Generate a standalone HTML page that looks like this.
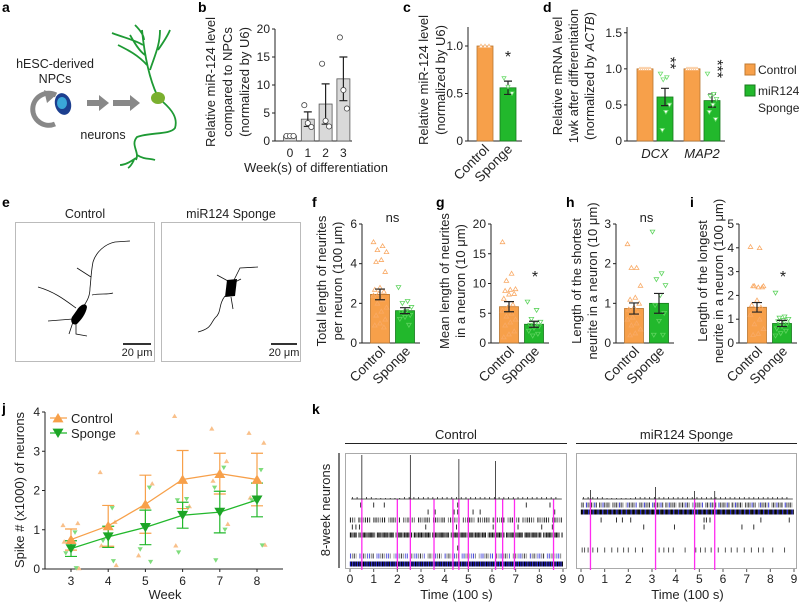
<!DOCTYPE html>
<html><head><meta charset="utf-8">
<style>
html,body{margin:0;padding:0;background:#fff;}
svg{display:block;font-family:"Liberation Sans",Arial,sans-serif;}
.lbl{font-weight:bold;font-size:14px;}
.tk{font-size:12px;fill:#222;}
.tt{font-size:13px;fill:#222;}
</style></head>
<body>
<svg id="fig" width="800" height="604" viewBox="0 0 800 604" xmlns="http://www.w3.org/2000/svg">
<text class="lbl" x="2" y="12">a</text>
<text class="lbl" x="198" y="12">b</text>
<text class="lbl" x="403" y="12">c</text>
<text class="lbl" x="543" y="12">d</text>
<text class="lbl" x="2" y="207">e</text>
<text class="lbl" x="312" y="207">f</text>
<text class="lbl" x="436" y="207">g</text>
<text class="lbl" x="566" y="207">h</text>
<text class="lbl" x="690" y="207">i</text>
<text class="lbl" x="2" y="413">j</text>
<text class="lbl" x="312" y="414">k</text>

<g>
  <text x="55" y="68" text-anchor="middle" font-size="12.5" fill="#222">hESC-derived</text>
  <text x="55" y="83" text-anchor="middle" font-size="12.5" fill="#222">NPCs</text>
  <path d="M56,95 A16,16 0 1 0 55,124" fill="none" stroke="#888" stroke-width="5"/>
  <path d="M44,90 L56,95 L47,103 Z" fill="#888"/>
  <ellipse cx="63" cy="104" rx="8" ry="11" fill="#1c3f8f" transform="rotate(-15 63 104)"/>
  <ellipse cx="62" cy="103" rx="5" ry="6" fill="#3aa7d8"/>
  <path d="M87,100 h12 v-5 l10,8 l-10,8 v-5 h-12 Z" fill="#888"/>
  <path d="M113,100 h17 v-5 l10,8 l-10,8 v-5 h-17 Z" fill="#888"/>
  <text x="103" y="139" text-anchor="middle" font-size="12.5" fill="#222">neurons</text>
  <g fill="none" stroke="#1e9a34" stroke-width="1.8">
    <path d="M157,95 C150,80 145,60 142,30 M147,65 C138,55 128,50 118,45 M143,45 C135,40 125,38 112,33 M144,40 C144,35 140,30 135,25 M150,70 C155,55 160,45 160,30 M158,50 C165,40 168,35 170,30 M145,55 C138,50 133,40 130,35"/>
    <path d="M163,102 C172,110 178,118 175,128 C170,135 150,132 137,137 C130,145 140,152 136,160 M136,158 C130,162 125,165 120,165 M137,155 C145,160 150,158 155,160 M134,160 C132,164 130,167 128,168"/>
  </g>
  <ellipse cx="158" cy="98" rx="7" ry="6" fill="#7ab02f"/>
</g>

<g>
  <text x="85" y="218" text-anchor="middle" font-size="12.5" fill="#222">Control</text>
  <text x="231" y="218" text-anchor="middle" font-size="12.5" fill="#222">miR124 Sponge</text>
  <rect x="15.5" y="222.5" width="139" height="139" fill="#fff" stroke="#bbb"/>
  <rect x="161.5" y="222.5" width="139" height="139" fill="#fff" stroke="#bbb"/>
  <g fill="none" stroke="#111" stroke-width="0.8">
    <path d="M83,307 C88,300 90,295 90,288 C91,280 91,272 93,262 C96,252 105,244 115,242 L130,241 M91,277 L77,268 M92,295 C100,293 107,295 113,293 M76,308 C65,300 55,292 38,287 M73,319 L48,321 M73,322 L69,334 M76,324 L76,334 L87,336"/>
    <path d="M234,280 L240,268 L258,267 M228,281 L217,275 M235,282 L241,279 M225,296 C218,305 222,312 215,318 C210,324 212,328 198,332 M231,297 L233,309"/>
  </g>
  <path d="M77,310 C80,305 86,302 87,307 C86,314 81,320 77,324 C72,326 70,321 72,317 Z" fill="#000"/>
  <path d="M227,280 L237,279 L235,296 L225,297 Z" fill="#000"/>
  <line x1="123" y1="344" x2="151" y2="344" stroke="#333" stroke-width="2"/>
  <text x="137" y="356" font-size="11" text-anchor="middle" fill="#222">20 μm</text>
  <line x1="271" y1="344" x2="297" y2="344" stroke="#333" stroke-width="2"/>
  <text x="284" y="356" font-size="11" text-anchor="middle" fill="#222">20 μm</text>
</g>

<rect x="745" y="64" width="10" height="11" fill="#f7a04a" stroke="#c07a30"/>
<text x="758" y="74" font-size="12" fill="#222">Control</text>
<rect x="745" y="85" width="10" height="11" fill="#22b82c" stroke="#177a1d"/>
<text x="758" y="95" font-size="12" fill="#222">miR124</text>
<text x="758" y="112" font-size="12" fill="#222">Sponge</text>
</svg>

<script>
const bWeeks=[0,1,2,3];
const bMeans=[0.9,3.9,6.6,11.1];
const bSems=[0.05,1.3,3.6,3.9];
const bPts=[[0.9,0.9,0.9],[6.4,3.2,2.5],[13.8,3.6,2.6],[18.5,9.1,5.8]];
const bTicks=[0,5,10,15,20];

const cCats=["Control","Sponge"];
const cMeans=[1.0,0.56];
const cSems=[0,0.07];
const cPts=[[1,1,1],[0.66,0.57,0.5]];
const cTicks=[0,0.5,1.0];

const dGenes=["DCX","MAP2"];
const dCtrlMeans=[1.0,1.0];
const dSpgMeans=[0.61,0.56];
const dSpgSems=[0.12,0.09];
const dCtrlPts=[[1,1,1,1,1,1],[1,1,1,1,1,1]];
const dSpgPts=[[0.93,0.88,0.85,0.5,0.4,0.15],[0.93,0.65,0.62,0.58,0.5,0.4,0.3]];
const dTicks=[0,0.5,1.0,1.5];

const fMeans=[2.45,1.63], fSems=[0.27,0.15];
const fPts=[[5.1,4.9,4.7,4.6,4.2,4.1,3.6,2.8,2.7,2.6,2.5,2.4,2.2,2.0,1.8,1.6,1.4,1.2,1.0,0.9,0.8],[2.8,2.1,2.0,1.8,1.6,1.55,1.4,1.3,1.2,0.9]];
const fTicks=[0,2,4,6];
const gMeans=[6.1,3.15], gSems=[0.85,0.5];
const gPts=[[17,11.7,10.5,9.1,9,8.8,8.3,8.2,7.5,6.5,6,5.5,5,4.5,4,3.5,3,2,1.5,1],[6.9,5.5,4,3.5,3.2,3,2.8,2.5,2,1.5,1.2]];
const gTicks=[0,5,10,15,20];
const hMeans=[0.87,1.0], hSems=[0.14,0.25];
const hPts=[[2.5,1.9,1.9,1.45,1.15,1.1,1.0,0.9,0.85,0.75,0.65,0.6,0.5,0.45,0.35,0.25,0.2],[2.8,1.75,1.6,1.45,1.2,0.95,0.75,0.55,0.2,0.2]];
const hTicks=[0,1,2,3];
const iMeans=[1.5,0.82], iSems=[0.2,0.13];
const iPts=[[4.05,4,2.4,2.4,2.35,2.4,2.35,1.8,1.6,1.5,1.4,1.2,1.0,0.8,0.6,0.4,0.35],[2.1,1.1,1.05,1.0,0.95,0.9,0.8,0.7,0.6,0.5,0.4,0.3]];
const iTicks=[0,1,2,3,4,5];

const jWeeks=[3,4,5,6,7,8];
const jCtrlMeans=[0.75,1.1,1.65,2.28,2.43,2.28];
const jCtrlSems=[0.27,0.52,0.74,0.74,0.52,0.67];
const jSpgMeans=[0.52,0.82,1.06,1.37,1.45,1.76];
const jSpgSems=[0.2,0.27,0.44,0.33,0.53,0.43];
const jCtrlPts=[[1.12,1.17,0.7,0.02],[2.47,1.2,0.6,0.1],[3.48,2.18,0.35],[3.9,1.6,0.6],[3.58,2.75,2.25,1.15],[3.47,3.22,1.82,0.62]];
const jSpgPts=[[0.93,0.4,0.02],[1.55,0.72,0.2],[2.07,0.5,0.18],[1.78,1.75,1.55,0.42],[2.58,2.07,1.0,0.22],[2.52,1.75,0.6]];
const jYTicks=[0,1,2,3,4];

const kTimeTicks=[0,1,2,3,4,5,6,7,8,9];
const kCtrlBursts=[0.5,2.55,4.6,6.15];
const kCtrlBurstH=[44,44,40,38];
const kCtrlSync=[0.5,2.0,2.55,3.55,4.35,4.6,5.0,6.15,6.45,6.95,8.6];
const kCtrlSparse1=[0.45,1.0,1.45,4.55,7.45,8.45];
const kCtrlSparse2=[3.3,3.6,4.4,4.55,5.2,5.5,8.65];
const kCtrlSparse3=[0.1,0.25,0.4,3.2,4.5,6.05,7.1,8.1,8.55];
const kSpgBursts=[0.4,3.15,4.8,5.65];
const kSpgBurstH=[9,12,8,8];
const kSpgSync=[0.4,3.15,4.8,5.65];
const kSpgSparse1=[0.85,1.5,1.75,2.1,5.2,5.3,5.45,7.6,8.8];
const kSpgSparse2=[2.65,3.95,5.2,6.8,7.3];
const kSpgSparse3=[0.05,0.15,0.3,0.5,0.7,1.0,1.3,1.55,1.8,2.0,2.3,2.6,3.3,3.5,3.7,3.9,4.4,4.85,5.05,5.25,5.5,5.8,6.1,6.35,6.6,6.9,7.2,7.5,7.7,8.1,8.6];

const NS='http://www.w3.org/2000/svg';
const svg=document.getElementById('fig');
function mk(tag,attrs,parent){const e=document.createElementNS(NS,tag);for(const k in attrs)e.setAttribute(k,attrs[k]);(parent||svg).appendChild(e);return e;}
function triPath(cx,cy,s,down){return down?`M${cx-s},${cy-s*0.8}L${cx+s},${cy-s*0.8}L${cx},${cy+s*0.9}Z`:`M${cx-s},${cy+s*0.8}L${cx+s},${cy+s*0.8}L${cx},${cy-s*0.9}Z`;}
function jit(i){return ((i*7)%11)-5;}
const ORANGE='#f7a04a',ORSTK='#b87630',GREEN='#22b82c',GRSTK='#177a1d';

function yAxis(x,y0,y1,ymax,ticks,fmt,name){
  const sy=v=>y0-(v/ymax)*(y0-y1);
  const ax=mk('line',{x1:x,y1:y1,x2:x,y2:y0,stroke:'#222','stroke-width':1});
  
  
  ticks.forEach(t=>{
    const tl=mk('line',{x1:x-3,y1:sy(t),x2:x,y2:sy(t),stroke:'#222'});
    
    
    const tx=mk('text',{x:x-5,y:sy(t)+4,'text-anchor':'end','class':'tk'});
    tx.textContent=fmt(t);
    
    
  });
  return sy;
}
function yTitle(lines,xs,cy,name,fs){
  lines.forEach((l,i)=>{
    const t=mk('text',{x:xs[i],y:cy,'text-anchor':'middle','class':'tt',transform:`rotate(-90 ${xs[i]} ${cy})`});
    if(fs) t.setAttribute('font-size',fs);
    t.innerHTML=l;
    
    
  });
}
function errBar(cx,sy,m,s,color,cap){
  const g=mk('path',{d:`M${cx},${sy(m-s)}V${sy(m+s)}M${cx-cap},${sy(m+s)}H${cx+cap}M${cx-cap},${sy(m-s)}H${cx+cap}`,stroke:color,'stroke-width':1.2,fill:'none'});
  
  
}
function rotLabel(x,y,txt,name){
  const t=mk('text',{x:x,y:y,'text-anchor':'end',transform:`rotate(-45 ${x} ${y})`,'font-size':'13.5',fill:'#222'});
  t.textContent=txt;
  
  
}

(function(){
  const x0=275,y0=141,y1=29;
  const sy=yAxis(x0,y0,y1,20,bTicks,v=>v,'b');
  const sx=w=>290+w*17.8;
  const xa=mk('line',{x1:x0,y1:y0,x2:352,y2:y0,stroke:'#222'});
  
  
  bWeeks.forEach((w,i)=>{
    const r=mk('rect',{x:sx(w)-6.5,y:sy(bMeans[i]),width:13,height:y0-sy(bMeans[i]),fill:'#d9d9d9',stroke:'#555','stroke-width':0.8});
    
    
    errBar(sx(w),sy,bMeans[i],bSems[i],'#222',4);
    bPts[i].forEach((p,j)=>{
      const c=mk('circle',{cx:sx(w)+(j-1)*3.5,cy:sy(p),r:2.6,fill:'#fff',stroke:'#444','stroke-width':0.8});
      
      
    });
    const tl=mk('text',{x:sx(w),y:157,'text-anchor':'middle','class':'tk','font-size':'12.5'});
    tl.textContent=w;
    
    
  });
  const xt=mk('text',{x:316,y:172,'text-anchor':'middle','font-size':'13',fill:'#222'});
  xt.textContent='Week(s) of differentiation';
  
  
  yTitle(['Relative miR-124 level','compared to NPCs','(normalized by U6)'],[215,232,249],82,'b');
})();

(function(){
  const x0=468,y0=141,y1=27;
  const sy=yAxis(x0,y0,y1,1.2,cTicks,v=>v===0?'0':v.toFixed(1),'c');
  const xa=mk('line',{x1:x0,y1:y0,x2:522,y2:y0,stroke:'#222'});
  
  
  const cx=[485,508];
  cCats.forEach((c,i)=>{
    const r=mk('rect',{x:cx[i]-8,y:sy(cMeans[i]),width:16,height:y0-sy(cMeans[i]),fill:i?GREEN:ORANGE,stroke:i?GRSTK:ORSTK,'stroke-width':0.8});
    
    
    if(cSems[i]>0) errBar(cx[i],sy,cMeans[i],cSems[i],'#222',4);
    cPts[i].forEach((p,j)=>{
      const t=mk('path',{d:triPath(cx[i]+(j-1)*4,sy(p),2,i===1),fill:'#fff',stroke:i?'#6fdc6f':'#f9b77a','stroke-width':0.8});
      
      
    });
    rotLabel(cx[i]+5,150,c,'c-x-tick-label');
  });
  const st=mk('text',{x:508,y:62,'text-anchor':'middle','font-size':'16',fill:'#222'});
  st.textContent='*';
  
  
  yTitle(['Relative miR-124 level','(normalized by U6)'],[428,445],80,'c');
})();

(function(){
  const x0=627,y0=141,y1=27;
  const sy=yAxis(x0,y0,y1,1.58,dTicks,v=>v===0?'0':v.toFixed(1),'d');
  const xa=mk('line',{x1:x0,y1:y0,x2:725,y2:y0,stroke:'#222'});
  
  
  const gc=[655,702];
  const stars=['**','***'];
  dGenes.forEach((g,i)=>{
    const cc=gc[i]-10, sc=gc[i]+10;
    const r1=mk('rect',{x:cc-8,y:sy(dCtrlMeans[i]),width:16,height:y0-sy(dCtrlMeans[i]),fill:ORANGE,stroke:ORSTK,'stroke-width':0.8});
    
    
    const r2=mk('rect',{x:sc-8,y:sy(dSpgMeans[i]),width:16,height:y0-sy(dSpgMeans[i]),fill:GREEN,stroke:GRSTK,'stroke-width':0.8});
    
    
    errBar(sc,sy,dSpgMeans[i],dSpgSems[i],'#222',4);
    dCtrlPts[i].forEach((p,j)=>{
      const t=mk('path',{d:triPath(cc-5+j*2,sy(p),1.8,false),fill:'#fff',stroke:'#f9b77a','stroke-width':0.7});
      
      
    });
    dSpgPts[i].forEach((p,j)=>{
      const t=mk('path',{d:triPath(sc+jit(j)*0.9,sy(p),2.2,true),fill:'#fff',stroke:'#6fdc6f','stroke-width':0.8});
      
      
    });
    const tl=mk('text',{x:gc[i],y:158,'text-anchor':'middle','font-size':'13','font-style':'italic',fill:'#222'});
    tl.textContent=g;
    
    
    const sy0=sy(dSpgMeans[i]+dSpgSems[i]+0.42);
    const st=mk('text',{x:sc+5,y:sy0,'text-anchor':'middle','font-size':'16',fill:'#222',transform:`rotate(90 ${sc} ${sy0})`});
    st.textContent=stars[i];
    
    
  });
  yTitle(['Relative mRNA level','1wk after differentiation','(normalized by <tspan font-style="italic">ACTB</tspan>)'],[562,578,594],76,'d','12.5');
})();

function smallPanel(name,x0,ymax,ticks,means,sems,pts,titles,tx,sig){
  const y0=343,y1=224;
  const sy=yAxis(x0,y0,y1,ymax,ticks,v=>v,name);
  const xa=mk('line',{x1:x0,y1:y0,x2:x0+58,y2:y0,stroke:'#222'});
  
  
  const cx=[x0+18,x0+43];
  const cats=['Control','Sponge'];
  cats.forEach((c,i)=>{
    const r=mk('rect',{x:cx[i]-9.5,y:sy(means[i]),width:19,height:y0-sy(means[i]),fill:i?GREEN:ORANGE,stroke:i?GRSTK:ORSTK,'stroke-width':0.8});
    
    
    pts[i].forEach((p,j)=>{
      const t=mk('path',{d:triPath(cx[i]+jit(j)*1.3,sy(p),2.3,i===1),fill:'none',stroke:i?'#5fd45f':'#f9aa66','stroke-width':0.8});
      
      
    });
    errBar(cx[i],sy,means[i],sems[i],'#222',5);
    rotLabel(cx[i]+6,352,c,name+'-x-tick-label');
  });
  if(sig){
    const st=mk('text',{x:sig==='*'?cx[1]+1:(cx[0]+cx[1])/2,y:sig==='*'?282:222,'text-anchor':'middle','font-size':sig==='*'?'16':'13',fill:'#222'});
    st.textContent=sig;
    
    
  }
  yTitle(titles,tx,281,name);
}
smallPanel('f',362,6,fTicks,fMeans,fSems,fPts,['Total length of neurites','per neuron (100 μm)'],[326,342],'ns');
smallPanel('g',491,20,gTicks,gMeans,gSems,gPts,['Mean length of neurites','in a neuron (10 μm)'],[449,465],'*');
smallPanel('h',616,3,hTicks,hMeans,hSems,hPts,['Length of the shortest','neurite in a neuron (10 μm)'],[581,597],'ns');
smallPanel('i',739,5,iTicks,iMeans,iSems,iPts,['Length of the longest','neurite in a neuron (100 μm)'],[707,723],'*');

(function(){
  const x0=45,y0=569;
  const sx=w=>71+(w-3)*37.2;
  const sy=yAxis(x0,y0,412,4,jYTicks,v=>v,'j');
  const xa=mk('line',{x1:x0,y1:y0,x2:283,y2:y0,stroke:'#222'});
  
  
  jWeeks.forEach((w,i)=>{
    const tl=mk('line',{x1:sx(w),y1:y0,x2:sx(w),y2:y0+3,stroke:'#222'});
    
    
    const tt=mk('text',{x:sx(w),y:585,'text-anchor':'middle','class':'tk'});
    tt.textContent=w;
    
    
    jCtrlPts[i].forEach((p,j)=>{
      const t=mk('path',{d:triPath(sx(w)+(j%2?6:-6)+jit(j)*0.4,sy(p),2.6,false),fill:'#f9c08a'});
      
      
    });
    jSpgPts[i].forEach((p,j)=>{
      const t=mk('path',{d:triPath(sx(w)+(j%2?-6:6)+jit(j)*0.4,sy(p),2.6,true),fill:'#7fdc7c'});
      
      
    });
  });
  const lc=mk('polyline',{points:jWeeks.map((w,i)=>sx(w)+','+sy(jCtrlMeans[i])).join(' '),fill:'none',stroke:'#f7a04a','stroke-width':1.3});
  
  
  const ls=mk('polyline',{points:jWeeks.map((w,i)=>sx(w)+','+sy(jSpgMeans[i])).join(' '),fill:'none',stroke:'#22b82c','stroke-width':1.3});
  
  
  jWeeks.forEach((w,i)=>{
    errBar(sx(w),sy,jCtrlMeans[i],jCtrlSems[i],'#f7a04a',6);
    errBar(sx(w),sy,jSpgMeans[i],jSpgSems[i],'#22b82c',6);
    const m1=mk('path',{d:triPath(sx(w),sy(jCtrlMeans[i]),5.5,false),fill:'#f7a04a'});
    
    
    const m2=mk('path',{d:triPath(sx(w),sy(jSpgMeans[i]),5.5,true),fill:'#1ca526'});
    
    
  });
  const xt=mk('text',{x:165,y:599,'text-anchor':'middle','font-size':'13',fill:'#222'});
  xt.textContent='Week';
  
  
  yTitle(['Spike # (x1000) of neurons'],[24],490,'j');
  const l1=mk('line',{x1:50,y1:418,x2:67,y2:418,stroke:'#f7a04a','stroke-width':1.3});
  
  
  const lm1=mk('path',{d:triPath(58,418,5.5,false),fill:'#f7a04a'});
  
  
  const lt1=mk('text',{x:71,y:423,'font-size':'13',fill:'#222'});
  lt1.textContent='Control';
  
  
  const l2=mk('line',{x1:50,y1:433,x2:67,y2:433,stroke:'#22b82c','stroke-width':1.3});
  
  
  const lm2=mk('path',{d:triPath(58,433,5.5,true),fill:'#1ca526'});
  
  
  const lt2=mk('text',{x:71,y:438,'font-size':'13',fill:'#222'});
  lt2.textContent='Sponge';
  
  
})();

function raster(name,bx0,bx1,t0,t9,title,bursts,burstH,sync,sparseRows,denseRows){
  const tx=t=>t0+t*(t9-t0)/9;
  const tt=mk('text',{x:(bx0+bx1)/2,y:439,'text-anchor':'middle','font-size':'13',fill:'#222'});
  tt.textContent=title;
  
  
  const ul=mk('line',{x1:bx0,y1:443.5,x2:bx1,y2:443.5,stroke:'#222','stroke-width':1});
  
  
  const box=mk('rect',{x:bx0+0.5,y:453.5,width:bx1-bx0-1,height:115,fill:'#fff',stroke:'#aaa'});
  
  
  denseRows.forEach(r=>{
    const g=mk('g',{});
    
    
    for(let t=0.02;t<8.98;t+=r.step){
      const k=Math.floor(t/r.step);
      if((k%r.gapMod)===r.gapAt) continue;
      const col=r.colors[k%r.colors.length];
      mk('line',{x1:tx(t),y1:r.y-2.5,x2:tx(t),y2:r.y+2.5,stroke:col,'stroke-width':r.w},g);
    }
  });
  sparseRows.forEach(r=>{
    r.times.forEach(t=>{
      const l=mk('line',{x1:tx(t),y1:r.y-2.5,x2:tx(t),y2:r.y+2.5,stroke:r.c||'#333','stroke-width':1});
      
      
    });
  });
  sync.forEach(t=>{
    const l=mk('line',{x1:tx(t),y1:499,x2:tx(t),y2:570,stroke:'#ff2bf0','stroke-width':1.3});
    
    
  });
  let d=`M${tx(0.05)},499 H${tx(8.95)}`;
  bursts.forEach((t,i)=>{d+=` M${tx(t)},499 V${499-burstH[i]}`;});
  for(let t=0.1;t<8.9;t+=0.2){d+=` M${tx(t)},499 V${498-(Math.floor(t*10)%2)}`;}
  const tr=mk('path',{d:d,stroke:'#222','stroke-width':0.8,fill:'none'});
  
  
  kTimeTicks.forEach(t=>{
    const tl=mk('line',{x1:tx(t),y1:569,x2:tx(t),y2:572,stroke:'#555'});
    
    
    const lb=mk('text',{x:tx(t),y:583,'text-anchor':'middle','class':'tk','font-size':'12'});
    lb.textContent=t;
    
    
  });
  const xt=mk('text',{x:(t0+t9)/2,y:599,'text-anchor':'middle','font-size':'13',fill:'#222'});
  xt.textContent='Time (100 s)';
  
  
}
raster('k-control',345,567,350,563,'Control',kCtrlBursts,kCtrlBurstH,kCtrlSync,
  [{y:505,times:kCtrlSparse1},{y:512,times:kCtrlSparse2},{y:527,times:kCtrlSparse3},{y:548,times:[4.55,4.6]}],
  [{y:520,step:0.09,w:1.1,colors:['#222','#555','#888','#333'],gapMod:7,gapAt:3},
   {y:535,step:0.06,w:1.2,colors:['#111','#444','#777','#222','#333'],gapMod:13,gapAt:5},
   {y:556,step:0.08,w:1,colors:['#4a4ad8','#888','#333','#aaa','#6a6ae0'],gapMod:9,gapAt:4},
   {y:564,step:0.05,w:1.3,colors:['#0a0aa8','#111','#2a2ad8','#000'],gapMod:999,gapAt:-1}]);
raster('k-sponge',576,797,581,794,'miR124 Sponge',kSpgBursts,kSpgBurstH,kSpgSync,
  [{y:520,times:kSpgSparse1},{y:527,times:kSpgSparse2},{y:550,times:kSpgSparse3,c:'#555'}],
  [{y:505,step:0.07,w:1.1,colors:['#888','#333','#aaa','#4a4ad8','#555'],gapMod:8,gapAt:2},
   {y:512,step:0.05,w:1.3,colors:['#000','#111','#2a2ad8','#222'],gapMod:999,gapAt:-1}]);
(function(){
  const vb=mk('line',{x1:339,y1:453,x2:339,y2:568,stroke:'#222','stroke-width':1.2});
  
  
  const t=mk('text',{x:330,y:510,'text-anchor':'middle','font-size':'13',fill:'#222',transform:'rotate(-90 330 510)'});
  t.textContent='8-week neurons';
  
  
})();
</script>
</body></html>
